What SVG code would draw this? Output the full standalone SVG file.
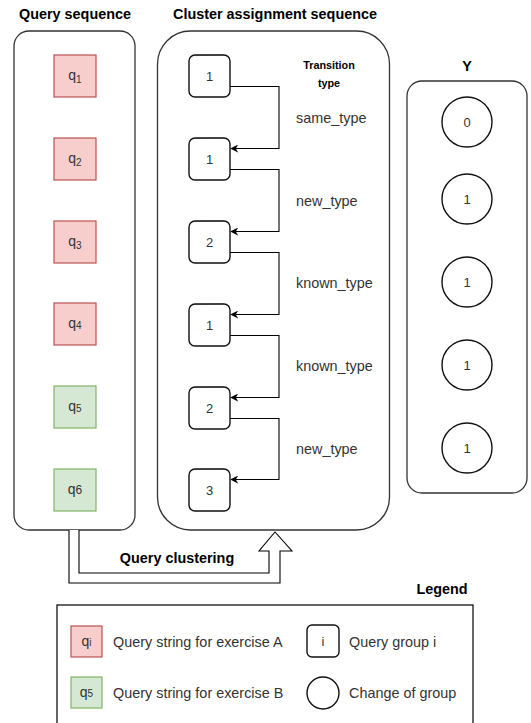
<svg xmlns="http://www.w3.org/2000/svg" width="531" height="723" viewBox="0 0 531 723">
<style>
text{font-family:"Liberation Sans",Arial,sans-serif;fill:#000}
.title{font-size:14.4px;font-weight:bold;text-anchor:middle}
.lbl{font-size:14.4px;fill:#333}
.num{font-size:13px;fill:#333;text-anchor:middle}
.qt{font-size:14px;fill:#333;text-anchor:middle}
.sub{font-size:10px}
.cont{fill:#fff;stroke:#333;stroke-width:1.3}
.qa{fill:#f8cecc;stroke:#b85450;stroke-width:1.2}
.qb{fill:#d5e8d4;stroke:#82b366;stroke-width:1.2}
.grp{fill:#fff;stroke:#111;stroke-width:1.4}
.grp2{fill:none;stroke:#333;stroke-width:0.7}
.chg{fill:#fff;stroke:#111;stroke-width:1.4}
.conn{fill:none;stroke:#000;stroke-width:1.1}
</style>
<defs>
<marker id="arr" viewBox="0 0 10 10" refX="9" refY="5" markerWidth="8" markerHeight="8" orient="auto" markerUnits="userSpaceOnUse">
<path d="M0,0 L10,5 L0,10 L3,5 Z" fill="#000"/>
</marker>
</defs>
<rect width="531" height="723" fill="#fff"/>

<text class="title" x="75" y="19">Query sequence</text>
<text class="title" x="275" y="19">Cluster assignment sequence</text>
<text class="title" x="467" y="71">Y</text>

<g id="query-sequence">
<rect class="cont" x="14" y="31" width="121" height="499" rx="15"/>
</g>
<g id="cluster-sequence">
<rect class="cont" x="157.5" y="31" width="232" height="499" rx="33"/>
</g>
<g id="y-column">
<rect class="cont" x="407" y="81" width="120" height="412" rx="15"/>
</g>

<g id="q1"><rect class="qa" x="54" y="55" width="42" height="42"/><text class="qt" x="75" y="80">q<tspan class="sub" dy="3">1</tspan></text></g>
<g id="q2"><rect class="qa" x="54" y="138" width="42" height="42"/><text class="qt" x="75" y="163">q<tspan class="sub" dy="3">2</tspan></text></g>
<g id="q3"><rect class="qa" x="54" y="221" width="42" height="42"/><text class="qt" x="75" y="246">q<tspan class="sub" dy="3">3</tspan></text></g>
<g id="q4"><rect class="qa" x="54" y="303" width="42" height="42"/><text class="qt" x="75" y="328">q<tspan class="sub" dy="1">4</tspan></text></g>
<g id="q5"><rect class="qb" x="54" y="386" width="42" height="42"/><text class="qt" x="75" y="411">q<tspan class="sub" dy="1">5</tspan></text></g>
<g id="q6"><rect class="qb" x="54" y="469" width="42" height="42"/><text class="qt" x="75" y="494">q<tspan font-size="12px">6</tspan></text></g>

<g id="g1"><rect class="grp" x="189" y="55" width="41" height="42" rx="6"/><path class="grp2" d="M195,55.6 L224,54.8"/><text class="num" x="209.5" y="80.5">1</text></g>
<g id="g2"><rect class="grp" x="189" y="138" width="41" height="42" rx="6"/><path class="grp2" d="M195,138.6 L224,137.8"/><text class="num" x="209.5" y="163.5">1</text></g>
<g id="g3"><rect class="grp" x="189" y="221" width="41" height="42" rx="6"/><path class="grp2" d="M195,221.6 L224,220.8"/><text class="num" x="209.5" y="246.5">2</text></g>
<g id="g4"><rect class="grp" x="189" y="304" width="41" height="42" rx="6"/><path class="grp2" d="M195,304.6 L224,303.8"/><text class="num" x="209.5" y="329.5">1</text></g>
<g id="g5"><rect class="grp" x="189" y="387" width="41" height="42" rx="6"/><path class="grp2" d="M195,387.6 L224,386.8"/><text class="num" x="209.5" y="412.5">2</text></g>
<g id="g6"><rect class="grp" x="189" y="469" width="41" height="42" rx="6"/><path class="grp2" d="M195,469.6 L224,468.8"/><text class="num" x="209.5" y="494.5">3</text></g>

<g id="transition-labels">
<text x="329" y="69" font-size="10.8px" font-weight="bold" text-anchor="middle" fill="#222">Transition</text>
<text x="329" y="87" font-size="10.8px" font-weight="bold" text-anchor="middle" fill="#222">type</text>
<text class="lbl" x="296" y="123">same_type</text>
<text class="lbl" x="296" y="206">new_type</text>
<text class="lbl" x="296" y="288">known_type</text>
<text class="lbl" x="296" y="371">known_type</text>
<text class="lbl" x="296" y="454">new_type</text>
</g>

<g id="y0"><circle class="chg" cx="467" cy="122" r="25"/><text class="num" x="467" y="126.5">0</text></g>
<g id="y1"><circle class="chg" cx="467" cy="199" r="25"/><text class="num" x="467" y="203.5">1</text></g>
<g id="y2"><circle class="chg" cx="467" cy="282" r="25"/><text class="num" x="467" y="286.5">1</text></g>
<g id="y3"><circle class="chg" cx="467" cy="365" r="25"/><text class="num" x="467" y="369.5">1</text></g>
<g id="y4"><circle class="chg" cx="467" cy="448" r="25"/><text class="num" x="467" y="452.5">1</text></g>

<g id="connectors">
<path class="conn" d="M230,86.5 H279 V148.5 H231" marker-end="url(#arr)"/>
<path class="conn" d="M230,169.5 H279 V231.5 H231" marker-end="url(#arr)"/>
<path class="conn" d="M230,252.5 H279 V314.5 H231" marker-end="url(#arr)"/>
<path class="conn" d="M230,335.5 H279 V397.5 H231" marker-end="url(#arr)"/>
<path class="conn" d="M230,418.5 H279 V479.5 H231" marker-end="url(#arr)"/>
<path d="M69,530 V583 H280 V551 H292 L275,532 L259,551 H269 V573 H79 V530" fill="#fff" stroke="#000" stroke-width="1.1"/>
</g>
<text class="title" x="177" y="563">Query clustering</text>

<text class="title" x="442" y="594">Legend</text>
<g id="legend">
<rect x="57" y="605" width="416" height="125" fill="#fff" stroke="#000" stroke-width="1.2"/>
<rect class="qa" x="71" y="626" width="31" height="31"/>
<text class="qt" x="86.5" y="645.5">q<tspan font-size="10px">i</tspan></text>
<text class="lbl" x="113" y="647">Query string for exercise A</text>
<rect class="grp" x="307" y="625" width="32" height="32" rx="5"/>
<text class="num" x="323" y="645.5">i</text>
<text class="lbl" x="349" y="647">Query group i</text>
<rect class="qb" x="71" y="677" width="31" height="31"/>
<text class="qt" x="86.5" y="696.5">q<tspan font-size="10px">5</tspan></text>
<text class="lbl" x="113" y="698">Query string for exercise B</text>
<circle class="chg" cx="323" cy="693" r="16"/>
<text class="lbl" x="349" y="698">Change of group</text>
</g>
</svg>
